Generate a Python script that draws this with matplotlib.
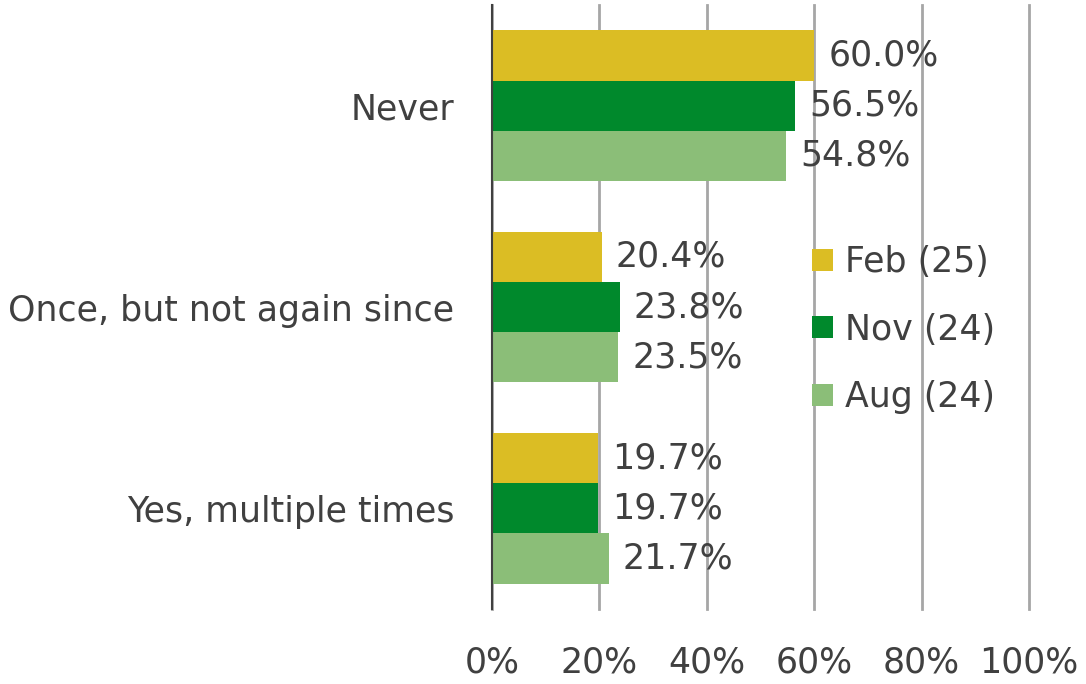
import matplotlib
matplotlib.use("Agg")
import matplotlib.pyplot as plt
import numpy as np
from matplotlib.patches import Patch

categories = ["Never", "Once, but not again since", "Yes, multiple times"]
series_names = ["Feb (25)", "Nov (24)", "Aug (24)"]
feb = [60.0, 20.4, 19.7]
nov = [56.5, 23.8, 19.7]
aug = [54.8, 23.5, 21.7]
xticks = [0, 20, 40, 60, 80, 100]
colors = ["#DBBD24", "#00892C", "#8BBE78"]

plt.rcParams['font.family'] = ['DejaVu Sans']
txt = "#404040"
fs = 25

fig = plt.figure(figsize=(10.86, 6.84), dpi=100)
ax = fig.add_axes([492/1086, 1-609/684, (1029-492)/1086, (609-5)/684])

h = 0.249
y = np.arange(len(categories))
series = [feb, nov, aug]
for i, (vals, c) in enumerate(zip(series, colors)):
    pos = y + (i - 1) * h
    ax.barh(pos, vals, height=h, color=c, zorder=3)
    for p, v in zip(pos, vals):
        ax.annotate(f"{v:.1f}%", (v, p), xytext=(14, 0), textcoords="offset pixels",
                    va="center", ha="left", fontsize=fs, color=txt, zorder=4)

ax.set_xlim(0, 100)
ax.set_ylim(2.5, -0.5)
ax.set_yticks(y)
ax.set_yticklabels(categories, fontsize=fs, color=txt)
ax.set_xticks(xticks)
ax.set_xticklabels([f"{t}%" for t in xticks], fontsize=fs, color=txt)
ax.tick_params(axis="x", length=0, pad=26)
ax.tick_params(axis="y", length=0, pad=27)
for s in ["top", "right", "bottom"]:
    ax.spines[s].set_visible(False)
ax.spines["left"].set_color("#404040")
ax.spines["left"].set_linewidth(1.5)
ax.spines["left"].set_zorder(5)
ax.grid(axis="x", color="#A6A6A6", linewidth=2, zorder=0)
ax.set_axisbelow(True)
for gl in ax.get_xgridlines():
    gl.set_clip_on(False)

handles = [Patch(facecolor=c, label=n) for c, n in zip(colors, series_names)]
leg = ax.legend(handles=handles, loc="upper left", bbox_to_anchor=((812-492)/(1029-492), 1-(245-5)/604),
                frameon=False, fontsize=fs, labelcolor=txt, handlelength=0.6, handleheight=0.6,
                handletextpad=0.35, labelspacing=0.97, borderaxespad=0, borderpad=0)

fig.savefig("out.png", dpi=100)
